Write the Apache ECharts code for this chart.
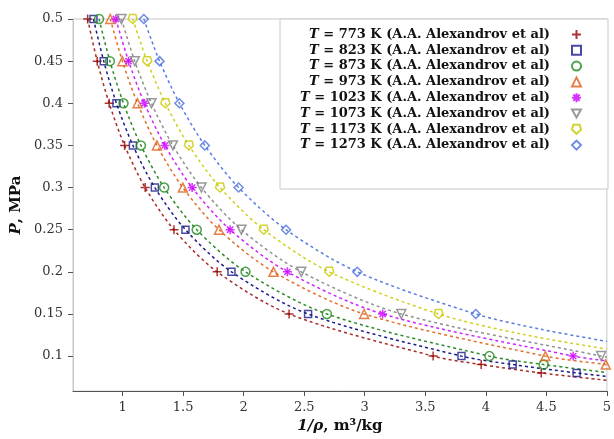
<!DOCTYPE html>
<html><head><meta charset="utf-8">
<script src="https://cdn.jsdelivr.net/npm/echarts@6/dist/echarts.min.js"></script>
<style>html,body{margin:0;padding:0;background:#fff}#c{width:614px;height:439px}</style>
</head><body><div id="c"></div><script>
// Pressure levels (MPa) of the tabulated points
const pressures = [0.5, 0.45, 0.4, 0.35, 0.3, 0.25, 0.2, 0.15, 0.1, 0.09, 0.08];
// Specific volume 1/rho (m3/kg) read at each pressure level (visible points only)
const v773  = [0.711, 0.790, 0.889, 1.016, 1.186, 1.424, 1.781, 2.375, 3.565, 3.962, 4.458];
const v823  = [0.759, 0.844, 0.949, 1.085, 1.266, 1.519, 1.899, 2.532, 3.799, 4.222, 4.750];
const v873  = [0.805, 0.895, 1.007, 1.151, 1.343, 1.612, 2.015, 2.687, 4.030, 4.478];
const v973  = [0.898, 0.998, 1.123, 1.283, 1.497, 1.796, 2.246, 2.995, 4.492, 4.991];
const v1023 = [0.944, 1.049, 1.180, 1.349, 1.574, 1.888, 2.361, 3.148, 4.722];
const v1073 = [0.990, 1.100, 1.238, 1.415, 1.651, 1.981, 2.476, 3.302, 4.953];
const v1173 = [1.083, 1.203, 1.353, 1.547, 1.805, 2.166, 2.707, 3.610];
const v1273 = [1.175, 1.305, 1.469, 1.679, 1.958, 2.350, 2.938, 3.917];
// Dashed fitted curves continue to the right edge: extra points
const tail773  = [[5, 0.0713]];
const tail823  = [[5, 0.0760]];
const tail873  = [[5, 0.0806]];
const tail973  = [[5, 0.0898]];
const tail1023 = [[5, 0.0944]];
const tail1073 = [[5, 0.0990]];
const tail1173 = [[4.3, 0.126], [5, 0.1083]];
const tail1273 = [[4.45, 0.132], [5, 0.1175]];
const temps = ['773', '823', '873', '973', '1023', '1073', '1173', '1273'];
const xTicks = [1, 1.5, 2, 2.5, 3, 3.5, 4, 4.5, 5];
const yTicks = [0.1, 0.15, 0.2, 0.25, 0.3, 0.35, 0.4, 0.45, 0.5];

const vols = [v773, v823, v873, v973, v1023, v1073, v1173, v1273];
const tails = [tail773, tail823, tail873, tail973, tail1023, tail1073, tail1173, tail1273];
const colors = ['#990000', '#1c1c8a', '#1f8a1f', '#e0601a', '#cc00ff', '#808080', '#c8c800', '#4a6fe0'];
const lineColors = ['#a82a2a', '#1c1c8a', '#2a8a2a', '#e0702a', '#cc22ff', '#909090', '#d0d020', '#5a7ee0'];
const symbols = [
  'path://M0,5L10,5M5,0L5,10',
  'rect',
  'circle',
  'triangle',
  'path://M0,5L10,5M5,0L5,10M1.5,1.5L8.5,8.5M1.5,8.5L8.5,1.5',
  'path://M0,0L10,0L5,9Z',
  'path://M1.5,0L8.5,0L10,5.5L5,10L0,5.5Z',
  'diamond'
];
const sizes = [9, 7, 9, 9, 9, 9, 9, 9];
const serif = '"DejaVu Serif", serif';
const names = temps.map(t => 'T = ' + t + ' K (A.A. Alexandrov et al)');

const series = [];
vols.forEach((v, i) => {
  const pts = v.map((x, j) => [x, pressures[j]]);
  series.push({
    name: 'curve' + i, type: 'line', data: pts.concat(tails[i]),
    showSymbol: false, smooth: 0.3, clip: true, silent: true, z: 2,
    lineStyle: { color: lineColors[i], width: 1.5, type: [3, 3] }
  });
});
vols.forEach((v, i) => {
  series.push({
    name: names[i], type: 'scatter', data: v.map((x, j) => [x, pressures[j]]),
    symbol: symbols[i], symbolSize: sizes[i], clip: true, z: 3,
    itemStyle: { color: 'transparent', borderColor: colors[i], borderWidth: 1.5 }
  });
});

const tStyle = { fontFamily: serif, fontWeight: 'bold', fontSize: 13, color: '#111', lineHeight: 15 };
const chart = echarts.init(document.getElementById('c'));
chart.setOption({
  animation: false,
  backgroundColor: '#fff',
  grid: { left: 73, right: 4, top: 19, bottom: 47, show: true, borderColor: '#c8c8c8', borderWidth: 1 },
  xAxis: {
    type: 'value', min: 0.59, max: 5,
    name: '{i|1/ρ}, m³/kg', nameLocation: 'middle', nameGap: 27,
    nameTextStyle: { fontFamily: serif, fontWeight: 'bold', fontSize: 15, color: '#111',
      rich: { i: { fontFamily: serif, fontWeight: 'bold', fontStyle: 'italic', fontSize: 15, color: '#111' } } },
    axisLine: { lineStyle: { color: '#555' } },
    axisTick: { show: true, length: 5, customValues: xTicks, lineStyle: { color: '#555' } },
    axisLabel: { customValues: xTicks, fontFamily: serif, fontSize: 13, color: '#333', margin: 10 },
    splitLine: { show: false }
  },
  yAxis: {
    type: 'value', min: 0.0585, max: 0.5,
    name: '{i|P}, MPa', nameLocation: 'middle', nameGap: 49,
    nameTextStyle: { fontFamily: serif, fontWeight: 'bold', fontSize: 15, color: '#111',
      rich: { i: { fontFamily: serif, fontWeight: 'bold', fontStyle: 'italic', fontSize: 15, color: '#111' } } },
    axisLine: { show: true, lineStyle: { color: '#c8c8c8' } },
    axisTick: { show: true, length: 5, customValues: yTicks, lineStyle: { color: '#555' } },
    axisLabel: { customValues: yTicks, fontFamily: serif, fontSize: 13, color: '#333', margin: 10 },
    splitLine: { show: false }
  },
  graphic: [{
    type: 'rect', z: 4, shape: { x: 280, y: 19, width: 328, height: 170 },
    style: { fill: '#fff', stroke: '#c8c8c8', lineWidth: 1 }
  }],
  legend: {
    data: names, orient: 'vertical', align: 'right', right: 27, top: 22,
    itemWidth: 9, itemHeight: 9, itemGap: 0.8, z: 5,
    formatter: n => '{i|T}{b|' + n.slice(1) + '}',
    textStyle: Object.assign({}, tStyle, {
      rich: {
        i: Object.assign({}, tStyle, { fontStyle: 'italic' }),
        b: Object.assign({}, tStyle, { padding: [0, 17, 0, 0] })
      }
    })
  },
  series: series
});
</script></body></html>
